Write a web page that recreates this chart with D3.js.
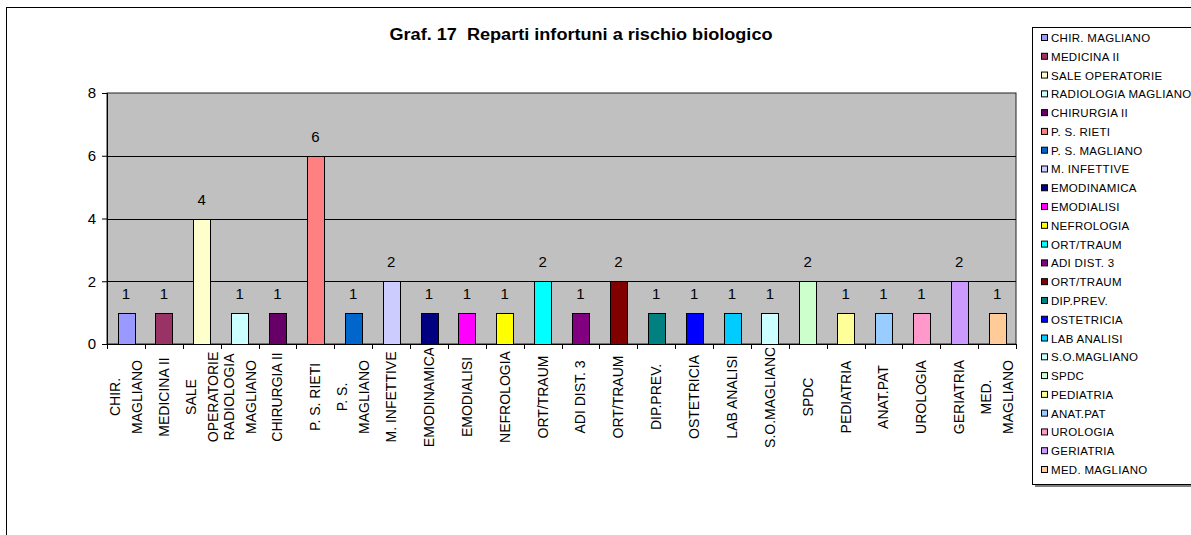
<!DOCTYPE html>
<html>
<head>
<meta charset="utf-8">
<script src="https://cdn.jsdelivr.net/npm/d3@7"></script>
<style>
    body { margin: 0; background: #fff; }
    svg { display: block; font-family: "Liberation Sans", Arial, sans-serif; }
</style>
</head>
<body>
<div id="chart"></div>
<script>
// reparti (one series per ward, as in the original sheet)
const reparti = ["CHIR. MAGLIANO", "MEDICINA II", "SALE OPERATORIE", "RADIOLOGIA MAGLIANO",
    "CHIRURGIA II", "P. S. RIETI", "P. S. MAGLIANO", "M. INFETTIVE", "EMODINAMICA",
    "EMODIALISI", "NEFROLOGIA", "ORT/TRAUM", "ADI DIST. 3", "ORT/TRAUM", "DIP.PREV.",
    "OSTETRICIA", "LAB ANALISI", "S.O.MAGLIANO", "SPDC", "PEDIATRIA", "ANAT.PAT",
    "UROLOGIA", "GERIATRIA", "MED. MAGLIANO"];

const infortuni = [1, 1, 4, 1, 1, 6, 1, 2, 1, 1, 1, 2, 1, 2, 1, 1, 1, 1, 2, 1, 1, 1, 2, 1];

// category labels as they wrap under the axis
const etichette = [["CHIR.", "MAGLIANO"], ["MEDICINA II"], ["SALE", "OPERATORIE"],
    ["RADIOLOGIA", "MAGLIANO"], ["CHIRURGIA II"], ["P. S. RIETI"], ["P. S.", "MAGLIANO"],
    ["M. INFETTIVE"], ["EMODINAMICA"], ["EMODIALISI"], ["NEFROLOGIA"], ["ORT/TRAUM"],
    ["ADI DIST. 3"], ["ORT/TRAUM"], ["DIP.PREV."], ["OSTETRICIA"], ["LAB ANALISI"],
    ["S.O.MAGLIANO"], ["SPDC"], ["PEDIATRIA"], ["ANAT.PAT"], ["UROLOGIA"], ["GERIATRIA"],
    ["MED.", "MAGLIANO"]];

const colori = ["#9999FF", "#993366", "#FFFFCC", "#CCFFFF", "#660066", "#FF8080", "#0066CC",
    "#CCCCFF", "#000080", "#FF00FF", "#FFFF00", "#00FFFF", "#800080", "#800000", "#008080",
    "#0000FF", "#00CCFF", "#CCFFFF", "#CCFFCC", "#FFFF99", "#99CCFF", "#FF99CC", "#CC99FF",
    "#FFCC99"];

const yTicks = [0, 2, 4, 6, 8];
const titolo = "Graf. 17  Reparti infortuni a rischio biologico";

const data = reparti.map((r, i) => ({ idx: i, nome: r, valore: infortuni[i], colore: colori[i], righe: etichette[i] }));

let W = 1191, H = 535;
let plot = { left: 107, top: 93, right: 1016, bottom: 344 };

let svg = d3.select("#chart").append("svg")
    .attr("width", W)
    .attr("height", H);

// outer chart frame (runs past the window on right/bottom)
svg.append("rect")
    .attr("x", 6.5).attr("y", 7.5)
    .attr("width", 1300).attr("height", 600)
    .attr("fill", "#fff").attr("stroke", "#000").attr("stroke-width", 1);

// title
svg.append("text")
    .attr("x", 581).attr("y", 40)
    .attr("text-anchor", "middle")
    .attr("font-size", 16).attr("font-weight", "bold")
    .attr("textLength", 383).attr("lengthAdjust", "spacingAndGlyphs")
    .style("white-space", "pre")
    .text(titolo);

let x = d3.scaleBand()
    .domain(data.map(d => d.idx))
    .range([plot.left, plot.right])
    .paddingInner(0)
    .paddingOuter(0);

let y = d3.scaleLinear().domain([0, 8]).range([plot.bottom, plot.top]);

// plot area
svg.append("rect")
    .attr("x", plot.left).attr("y", plot.top)
    .attr("width", plot.right - plot.left).attr("height", plot.bottom - plot.top)
    .attr("fill", "#C0C0C0").attr("stroke", "#222").attr("stroke-width", 1);

// gridlines
svg.append("g").selectAll("line")
    .data(yTicks.filter(t => t > 0 && t < 8))
    .enter().append("line")
    .attr("x1", plot.left).attr("x2", plot.right)
    .attr("y1", d => Math.round(y(d)) + 0.5).attr("y2", d => Math.round(y(d)) + 0.5)
    .attr("stroke", "#000");

// bars
let barW = x.bandwidth() * 0.44;
svg.append("g").selectAll("rect")
    .data(data)
    .enter().append("rect")
    .attr("x", d => Math.round(x(d.idx) + (x.bandwidth() - barW) / 2) + 0.5)
    .attr("y", d => Math.round(y(d.valore)) + 0.5)
    .attr("width", Math.round(barW))
    .attr("height", d => Math.round(y(0)) - Math.round(y(d.valore)))
    .attr("fill", d => d.colore)
    .attr("stroke", "#000").attr("stroke-width", 1);

// value labels
svg.append("g").selectAll("text")
    .data(data)
    .enter().append("text")
    .attr("x", d => x(d.idx) + x.bandwidth() / 2)
    .attr("y", d => y(d.valore) - 14)
    .attr("text-anchor", "middle")
    .attr("font-size", 15)
    .text(d => d.valore);

// y axis
let yAxis = svg.append("g")
    .attr("transform", `translate(${plot.left},0)`)
    .call(d3.axisLeft(y).tickValues(yTicks).tickSize(5).tickPadding(6).tickFormat(d3.format("d")));
yAxis.selectAll("text").attr("font-size", 15).attr("font-family", "Liberation Sans, Arial, sans-serif").attr("fill", "#000");
yAxis.select(".domain").attr("stroke", "#000");

// x axis: ticks at category boundaries
let xAxisG = svg.append("g");
xAxisG.append("line")
    .attr("x1", plot.left).attr("x2", plot.right)
    .attr("y1", plot.bottom + 0.5).attr("y2", plot.bottom + 0.5)
    .attr("stroke", "#000");
xAxisG.selectAll("line.tick")
    .data(d3.range(data.length + 1))
    .enter().append("line")
    .attr("class", "tick")
    .attr("x1", i => Math.round(plot.left + i * x.step()) + 0.5)
    .attr("x2", i => Math.round(plot.left + i * x.step()) + 0.5)
    .attr("y1", plot.bottom).attr("y2", plot.bottom + 5)
    .attr("stroke", "#000");

// rotated category labels, clipped just under the axis
svg.append("clipPath").attr("id", "lblclip")
    .append("rect").attr("x", 0).attr("y", plot.bottom + 4).attr("width", W).attr("height", 200);

let lbl = svg.append("g").attr("clip-path", "url(#lblclip)")
    .selectAll("g")
    .data(data)
    .enter().append("g")
    .attr("transform", d => `translate(${x(d.idx) + x.bandwidth() / 2},397) rotate(-90)`);

lbl.each(function (d) {
    let n = d.righe.length;
    d3.select(this).selectAll("text")
        .data(d.righe)
        .enter().append("text")
        .attr("x", 0)
        .attr("y", (r, j) => (j - (n - 1) / 2) * 22 + 5)
        .attr("text-anchor", "middle")
        .attr("font-size", 14)
        .text(r => r);
});

// legend
let leg = { x: 1032, y: 27, w: 200, h: 457 };
svg.append("rect")
    .attr("x", leg.x + 3).attr("y", leg.y + 3)
    .attr("width", leg.w).attr("height", leg.h)
    .attr("fill", "#808080");
svg.append("rect")
    .attr("x", leg.x + 0.5).attr("y", leg.y + 0.5)
    .attr("width", leg.w).attr("height", leg.h)
    .attr("fill", "#fff").attr("stroke", "#000");

let legY = d3.scalePoint().domain(data.map(d => d.idx)).range([38, 470]);

let items = svg.append("g").selectAll("g")
    .data(data)
    .enter().append("g")
    .attr("transform", d => `translate(${leg.x},${legY(d.idx)})`);

items.append("rect")
    .attr("x", 9.5).attr("y", -3.5)
    .attr("width", 6).attr("height", 6)
    .attr("fill", d => d.colore)
    .attr("stroke", "#000");

items.append("text")
    .attr("x", 19).attr("y", 4)
    .attr("font-size", 11.5)
    .attr("letter-spacing", 0.3)
    .text(d => d.nome);
</script>
</body>
</html>
